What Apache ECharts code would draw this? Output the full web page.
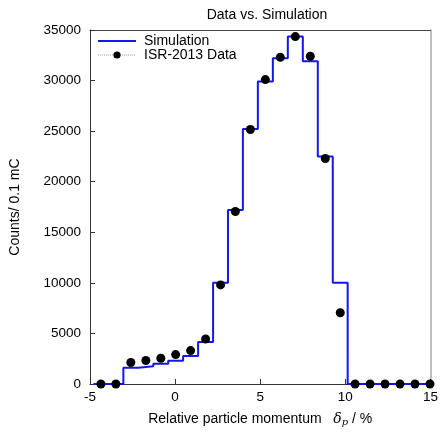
<!DOCTYPE html>
<html>
<head>
<meta charset="utf-8">
<script src="https://cdn.jsdelivr.net/npm/echarts@6/dist/echarts.min.js"></script>
<style>html,body{margin:0;padding:0;background:#fff;}#c{width:441px;height:432px;}</style>
</head>
<body>
<div id="c"></div>
<script>
// bin centres (relative momentum, %)
var binCentres = [-4.36, -3.48, -2.60, -1.72, -0.84, 0.03, 0.91, 1.79, 2.67, 3.54, 4.42, 5.30, 6.18, 7.06, 7.94, 8.82, 9.70, 10.57, 11.45, 12.33, 13.21, 14.09, 14.97];
// simulation histogram counts
var simCounts = [0, 0, 1600, 1760, 2000, 2290, 2780, 4160, 10000, 17200, 25200, 29900, 32200, 34350, 31900, 22500, 10000, 0, 0, 0, 0, 0, 0];
// measured data counts
var dataCounts = [0, 0, 2130, 2320, 2550, 2910, 3300, 4450, 9800, 17050, 25160, 30100, 32300, 34350, 32400, 22300, 7050, 0, 0, 0, 0, 0, 0];
var xTicks = [-5, 0, 5, 10, 15];
var yTicks = [0, 5000, 10000, 15000, 20000, 25000, 30000, 35000];

// build step outline from bin centres
var stepPts = [];
for (var i = 0; i < binCentres.length; i++) {
  var c = binCentres[i];
  var left = i === 0 ? c - (binCentres[1] - binCentres[0]) / 2 : (binCentres[i - 1] + c) / 2;
  var right = i === binCentres.length - 1 ? c + (c - binCentres[i - 1]) / 2 : (c + binCentres[i + 1]) / 2;
  stepPts.push([left, simCounts[i]]);
  stepPts.push([right, simCounts[i]]);
}
var dataPts = binCentres.map(function (x, i) { return [x, dataCounts[i]]; });

var font = 'Liberation Sans, Arial, sans-serif';
var chart = echarts.init(document.getElementById('c'));
chart.setOption({
  animation: false,
  textStyle: { fontFamily: font },
  title: {
    text: 'Data vs. Simulation', left: 262, top: 3, textAlign: 'center',
    textStyle: { fontSize: 14, fontWeight: 'normal', color: '#000', fontFamily: font }
  },
  grid: { left: 90, right: 8, top: 30, bottom: 43 },
  legend: {
    orient: 'vertical', left: 92, top: 29, itemWidth: 38, itemHeight: 9, itemGap: 0,
    textStyle: { fontSize: 14, color: '#000', lineHeight: 14, padding: [0, 0, 0, 3], fontFamily: font },
    data: [
      { name: 'Simulation', itemStyle: { opacity: 0 } },
      { name: 'ISR-2013 Data', lineStyle: { color: '#999', type: 'dotted', width: 1, opacity: 1 } }
    ]
  },
  xAxis: [{
    type: 'value', min: xTicks[0], max: xTicks[xTicks.length - 1], interval: 5,
    name: '{a|Relative particle momentum   }{d|δ}{s|p}{a| / %}',
    nameLocation: 'middle', nameGap: 27,
    nameTextStyle: {
      rich: {
        a: { fontSize: 14, color: '#000', fontFamily: font },
        d: { fontSize: 14, color: '#000', fontStyle: 'italic', fontFamily: 'DejaVu Serif, serif' },
        s: { fontSize: 10, color: '#000', fontStyle: 'italic', fontFamily: 'DejaVu Serif, serif', padding: [6, 0, 0, 0] }
      }
    },
    axisLine: { onZero: false, lineStyle: { color: '#333', width: 1 } },
    axisTick: { inside: true, length: 5, lineStyle: { color: '#333' } },
    axisLabel: { fontSize: 13.5, color: '#000', margin: 6 },
    splitLine: { show: false }
  }, {
    type: 'value', position: 'top', min: -5, max: 15,
    axisLine: { show: true, onZero: false, lineStyle: { color: '#444', width: 1 } },
    axisTick: { show: false }, axisLabel: { show: false }, splitLine: { show: false }
  }],
  yAxis: [{
    type: 'value', min: yTicks[0], max: yTicks[yTicks.length - 1], interval: 5000,
    name: 'Counts/ 0.1 mC', nameLocation: 'middle', nameGap: 68,
    nameTextStyle: { fontSize: 14, color: '#000', fontFamily: font },
    axisLine: { show: true, onZero: false, lineStyle: { color: '#333', width: 1 } },
    axisTick: { show: true, inside: true, length: 5, lineStyle: { color: '#333' } },
    axisLabel: { fontSize: 13.5, color: '#000', margin: 9, formatter: function (v) { return String(v); } },
    splitLine: { show: false }
  }, {
    type: 'value', position: 'right', min: 0, max: 35000,
    axisLine: { show: true, onZero: false, lineStyle: { color: '#aaa', width: 1.5 } },
    axisTick: { show: false }, axisLabel: { show: false }, splitLine: { show: false }
  }],
  series: [{
    name: 'Simulation', type: 'line', data: stepPts, symbol: 'none', clip: true,
    lineStyle: { color: '#1515f0', width: 2 }, itemStyle: { color: '#1515f0' }, z: 3
  }, {
    name: 'ISR-2013 Data', type: 'line', data: dataPts, symbol: 'circle', symbolSize: 9,
    lineStyle: { opacity: 0, width: 0 }, itemStyle: { color: '#000' }, z: 4, clip: false
  }]
});
</script>
</body>
</html>
